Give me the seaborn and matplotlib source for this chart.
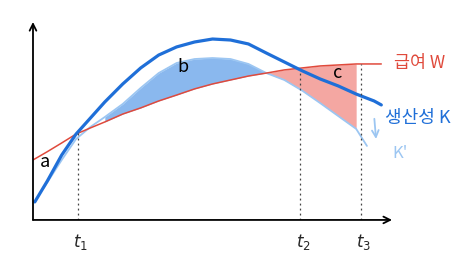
import numpy as np
import pandas as pd
import matplotlib
matplotlib.use("Agg")
import matplotlib.pyplot as plt
import seaborn as sns

# ---- data ----
t_k = [0.5, 4, 8, 12, 16, 20, 25, 30, 35, 40, 45, 50, 55, 60, 65, 70, 75, 80, 85, 90, 95, 97]
k_vals = [9.1, 19.7, 32.8, 43.4, 51.5, 59.6, 68.7, 76.8, 83.3, 87.4, 89.9, 91.4, 90.9, 88.9,
          84.3, 79.8, 75.3, 71.2, 67.7, 63.6, 60.1, 58.1]

t_w = [0, 4, 8, 12, 16, 20, 25, 30, 35, 40, 45, 50, 55, 60, 65, 70, 75, 80, 85, 90, 95, 97]
w_vals = [30.3, 34.5, 38.9, 43.4, 46.5, 49.5, 53.5, 56.6, 60.1, 63.1, 66.2, 68.7, 70.7, 72.7,
          74.2, 75.8, 76.8, 77.8, 78.3, 78.8, 78.8, 78.8]

t_kp = [3, 8, 12, 16, 20, 25, 30, 35, 40, 45, 50, 55, 60, 65, 70, 75, 80, 85, 90, 93]
kp_vals = [16.2, 30.3, 40.9, 47.0, 52.0, 58.6, 66.7, 74.2, 79.3, 81.3, 81.8, 81.3, 78.8,
           74.2, 70.7, 65.3, 59.0, 52.5, 46.0, 37.4]

t_marks = [12.5, 74.4, 91.3]
t_labels = ["$t_1$", "$t_2$", "$t_3$"]
t_tops = [44.0, 75.5, 78.8]

area_labels = ["a", "b", "c"]
area_x = [3.3, 41.8, 84.7]
area_y = [29.3, 77.3, 74.2]

BLUE = "#1f6fd8"
RED = "#e04a3c"
LIGHT = "#9cc6f2"
FILL_B = "#8ab8ee"
FILL_C = "#f4a7a2"

sns.set_theme(style="white")
plt.rcParams["font.family"] = ["Noto Sans CJK KR", "DejaVu Sans"]

fig = plt.figure(figsize=(4.7, 2.65), dpi=100)
ax = fig.add_axes([0.0702, 0.170, 0.764, 0.747])
ax.set_xlim(0, 100)
ax.set_ylim(0, 100)
for s in ax.spines.values():
    s.set_visible(False)
ax.set_xticks([])
ax.set_yticks([])

# fills: b (K' above W) and c (W above K')
tk = np.array(t_kp, dtype=float)
kp = np.array(kp_vals)
w_on_kp = np.interp(tk, t_w, w_vals)
mask_b = (tk >= 20) & (tk <= 65)
ax.fill_between(tk[mask_b], w_on_kp[mask_b], kp[mask_b], color=FILL_B, lw=0)
mask_c = (tk >= 65) & (tk <= 90)
ax.fill_between(tk[mask_c], kp[mask_c], w_on_kp[mask_c], color=FILL_C, lw=0)

df_k = pd.DataFrame({"t": t_k, "v": k_vals})
df_w = pd.DataFrame({"t": t_w, "v": w_vals})
df_kp = pd.DataFrame({"t": t_kp, "v": kp_vals})
sns.lineplot(data=df_kp, x="t", y="v", ax=ax, color=LIGHT, lw=1.3, sort=False,
             solid_joinstyle="round", solid_capstyle="round")
sns.lineplot(data=df_w, x="t", y="v", ax=ax, color=RED, lw=1.1, sort=False,
             solid_joinstyle="round", solid_capstyle="round")
sns.lineplot(data=df_k, x="t", y="v", ax=ax, color=BLUE, lw=2.3, sort=False,
             solid_joinstyle="round", solid_capstyle="round")
ax.set_xlabel("")
ax.set_ylabel("")

# dotted guide lines
for x, top in zip(t_marks, t_tops):
    ax.vlines(x, 0, top, colors="#444444", linestyles=(0, (1.5, 2.5)), lw=0.9)

# axes with arrows
ax.annotate("", xy=(0, 1.0), xytext=(0, 0), xycoords="axes fraction",
            arrowprops=dict(arrowstyle="->", color="black", lw=1.3, shrinkA=0, shrinkB=0))
ax.annotate("", xy=(1.0, 0), xytext=(0, 0), xycoords="axes fraction",
            arrowprops=dict(arrowstyle="->", color="black", lw=1.3, shrinkA=0, shrinkB=0))

for x, lab in zip(t_marks, t_labels):
    ax.text(x + 0.8, -11, lab, ha="center", va="center", fontsize=12, clip_on=False)

for lab, x, y in zip(area_labels, area_x, area_y):
    ax.text(x, y, lab, ha="center", va="center", fontsize=13, color="black")

ax.text(100.5, 79.3, "급여 W", color=RED, fontsize=12.5, ha="left", va="center", clip_on=False)
ax.text(98.0, 51.5, "생산성 K", color=BLUE, fontsize=13, ha="left", va="center", clip_on=False)
ax.text(100.0, 33.5, "K'", color=LIGHT, fontsize=12, ha="left", va="center", clip_on=False)
ax.annotate("", xy=(95.6, 39.5), xytext=(95.0, 52.5),
            arrowprops=dict(arrowstyle="->", color=LIGHT, lw=1.3), annotation_clip=False)

fig.savefig("out.png", dpi=100)
